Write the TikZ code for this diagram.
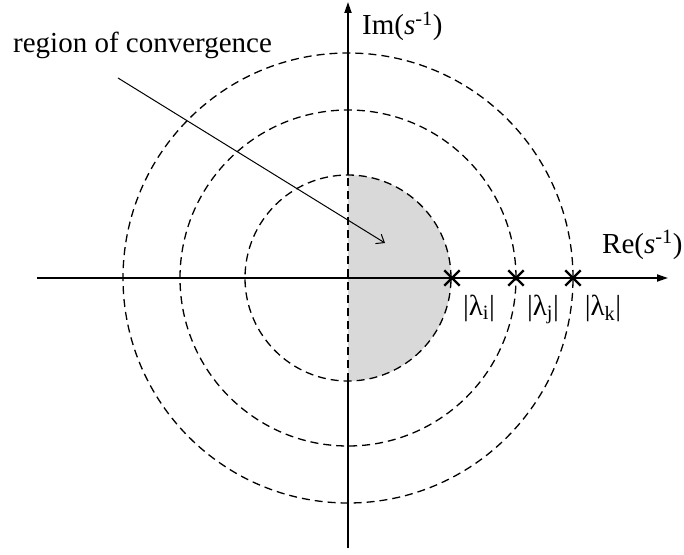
\documentclass[tikz,border=0pt]{standalone}
\usepackage{fontspec}
\setmainfont{Liberation Serif}
\usetikzlibrary{arrows.meta,shapes.misc}

\begin{document}
\begin{tikzpicture}[
    x=1pt, y=1pt,
    font=\fontsize{29}{34}\selectfont,
    axis/.style={
        line width=1.8pt,
        -{Triangle[length=11pt,width=7pt]}
    },
    ring/.style={
        dash pattern=on 8pt off 5pt,
        line width=1.3pt
    },
    roc/.style={
        fill=black!15
    },
    pole/.style={
        cross out,
        draw,
        line width=2.4pt,
        minimum size=13pt,
        inner sep=0pt
    },
    pointer/.style={
        line width=1pt,
        -{Straight Barb[length=7pt,width=11pt]}
    }
]
\useasboundingbox (-348,-276) rectangle (336,278);

\coordinate (origin) at (0,0);

% region of convergence
\fill[roc] (0,-103) arc[start angle=-90, end angle=90, radius=103pt] -- cycle;

% circles
\draw[ring] (origin) circle[radius=103pt];
\draw[ring] (origin) circle[radius=168pt];
\draw[ring] (origin) circle[radius=225pt];

% axes
\coordinate (xstart) at (-311,0);
\coordinate (xend) at (320,0);
\coordinate (ybottom) at (0,-270);
\coordinate (ytop) at (0,276);
\coordinate (ylow) at (0,-103);
\coordinate (yhigh) at (0,103);
\draw[axis] (xstart) -- (xend);
\draw[line width=1.8pt] (ybottom) -- (ylow);
\draw[line width=1.8pt, dash pattern=on 8pt off 5pt] (ylow) -- (yhigh);
\draw[axis] (yhigh) -- (ytop);

\node[anchor=base west, inner sep=0pt] (imlabel) at (14,243) {Im(\textit{s}\textsuperscript{-1})};
\node[anchor=base west, inner sep=0pt] (relabel) at (254,25) {Re(\textit{s}\textsuperscript{-1})};

% poles
\node[pole] (pi) at (104,0) {};
\node[pole] (pj) at (168,0) {};
\node[pole] (pk) at (225,0) {};

\node[anchor=base, inner sep=0pt] (li) at (131,-37) {|λ\textsubscript{i}|};
\node[anchor=base, inner sep=0pt] (lj) at (195,-37) {|λ\textsubscript{j}|};
\node[anchor=base, inner sep=0pt] (lk) at (255,-37) {|λ\textsubscript{k}|};

% label and pointer
\node[anchor=base west, inner sep=0pt] (roclabel) at (-335,225) {region of convergence};
\coordinate (rocstart) at (-230,200);
\coordinate (rocend) at (37,35);
\draw[pointer] (rocstart) -- (rocend);

\end{tikzpicture}
\end{document}
